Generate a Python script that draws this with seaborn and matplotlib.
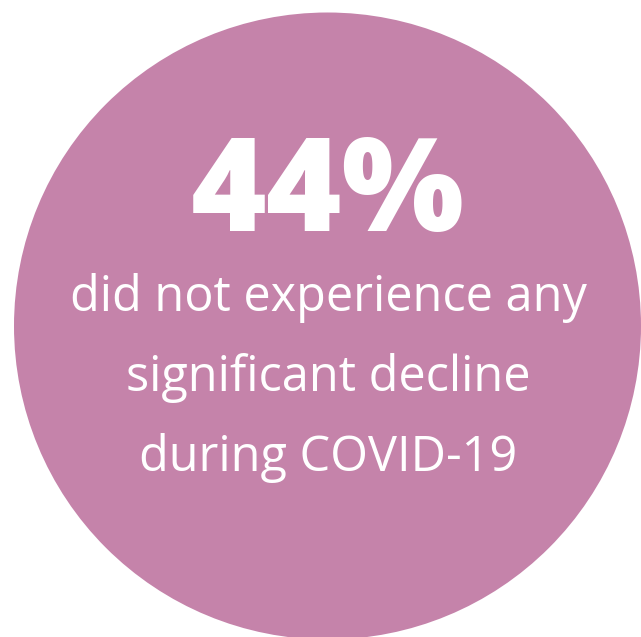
import matplotlib
matplotlib.use("Agg")
import matplotlib.pyplot as plt
from matplotlib.patches import Circle
import seaborn as sns

# ── data ──────────────────────────────────────────────
share_pct = 44
caption_lines = ["did not experience any", "significant decline", "during COVID-19"]
circle_color = "#C583AA"

sns.set_theme(style="white")
plt.rcParams["font.family"] = ["Open Sans", "DejaVu Sans"]

W, H = 641, 637
fig = plt.figure(figsize=(W / 100, H / 100), dpi=100)
ax = fig.add_axes([0, 0, 1, 1])
ax.set_xlim(0, W)
ax.set_ylim(H, 0)
ax.set_aspect("equal")
ax.axis("off")

ax.add_patch(Circle((327.5, 326), 313.5, color=circle_color, lw=0))

ax.text(328, 231, f"{share_pct}%", ha="center", va="baseline",
        color="white", fontsize=93, fontweight="heavy")

for i, line in enumerate(caption_lines):
    ax.text(328, 311 + i * 80, line, ha="center", va="baseline",
            color="white", fontsize=35, fontweight="medium")

fig.savefig("out.png", dpi=100)
